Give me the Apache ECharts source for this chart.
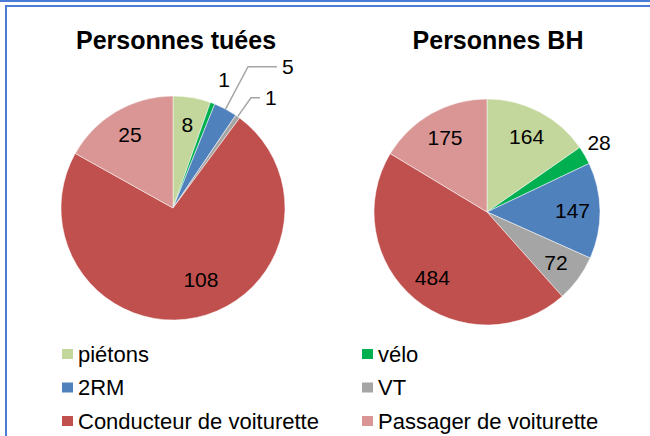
<!DOCTYPE html>
<html>
<head>
<meta charset="utf-8">
<script src="https://cdn.jsdelivr.net/npm/echarts@6/dist/echarts.min.js"></script>
<style>
html,body{margin:0;padding:0;background:#fff;}
#chart{width:650px;height:436px;}
</style>
</head>
<body>
<div id="chart"></div>
<script>
// ---- data ----
const categories = ['piétons', 'vélo', '2RM', 'VT', 'Conducteur de voiturette', 'Passager de voiturette'];
const tuees = [8, 1, 5, 1, 108, 25];
const blesses = [164, 28, 147, 72, 484, 175];
const titles = ['Personnes tuées', 'Personnes BH'];

// ---- styles ----
const colors = ['#C3D69B', '#00B050', '#4F81BD', '#A5A5A5', '#C0504D', '#D99694'];
const FONT = "'Liberation Sans', Arial, sans-serif";
const pies = [
  { values: tuees, center: [173, 208], r: 112,
    outside: { 1: { l1: 25, l2: -8, line: false }, 2: { l1: 48, l2: 29, line: true }, 3: { l1: 23, l2: 9, line: true } },
    nudge: { 4: { dx: 10, dy: -12 } } },
  { values: blesses, center: [487, 212], r: 113,
    outside: { 1: { l1: 25, l2: -24, line: false } },
    nudge: {} }
];

const series = [];
pies.forEach(function (p) {
  // visible pie
  series.push({
    type: 'pie', center: p.center, radius: p.r, startAngle: 90, clockwise: true,
    avoidLabelOverlap: false, silent: true,
    label: { show: false }, labelLine: { show: false },
    itemStyle: { borderColor: '#ffffff', borderWidth: 0.5 },
    emphasis: { disabled: true },
    data: categories.map(function (c, i) {
      return { name: c, value: p.values[i], itemStyle: { color: colors[i] } };
    })
  });
  // label carrier (transparent ring so inside labels sit at ~0.73 r)
  series.push({
    type: 'pie', center: p.center, radius: [Math.round(p.r * 0.46), p.r], startAngle: 90, clockwise: true,
    avoidLabelOverlap: false, silent: true,
    itemStyle: { color: 'rgba(0,0,0,0)' },
    emphasis: { disabled: true },
    label: { show: true, position: 'inside', formatter: '{c}', color: '#000', fontSize: 21, fontFamily: FONT },
    labelLine: { show: false },
    labelLayout: function (params) {
      const n = p.nudge[params.dataIndex];
      return n ? { dx: n.dx, dy: n.dy } : {};
    },
    data: categories.map(function (c, i) {
      const item = { name: c, value: p.values[i] };
      const o = p.outside[i];
      if (o) {
        item.label = { position: 'outside', formatter: '{c}', color: '#000', fontSize: 21, fontFamily: FONT };
        item.labelLine = { show: o.line, length: o.l1, length2: o.l2, smooth: false,
          lineStyle: { color: '#A6A6A6', width: 1.5 } };
      }
      return item;
    })
  });
});

const legendCommon = {
  orient: 'vertical', icon: 'rect', itemWidth: 11, itemHeight: 10, itemGap: 11.5, itemGap2: 0,
  selectedMode: false, padding: 0, height: 95, itemStyle: { borderWidth: 0 },
  textStyle: { color: '#000', fontSize: 22, fontFamily: FONT, lineHeight: 22 }
};

const chart = echarts.init(document.getElementById('chart'), null, { renderer: 'svg' });
chart.setOption({
  animation: false,
  backgroundColor: '#ffffff',
  legend: [
    Object.assign({}, legendCommon, { left: 62, top: 343, data: [categories[0], categories[2], categories[4]] }),
    Object.assign({}, legendCommon, { left: 362, top: 343, data: [categories[1], categories[3], categories[5]] })
  ],
  series: series,
  graphic: [
    { type: 'rect', shape: { x: 0, y: 0, width: 650, height: 2 }, style: { fill: '#4A7CD6' }, silent: true },
    { type: 'rect', shape: { x: 6, y: 6, width: 700, height: 500 }, style: { fill: 'none', stroke: '#4A7CD6', lineWidth: 2 }, silent: true },
    { type: 'text', x: 176, y: 40, style: { text: titles[0], fontSize: 25, fontWeight: 'bold', fontFamily: FONT, fill: '#000', align: 'center', verticalAlign: 'middle' } },
    { type: 'text', x: 498, y: 40, style: { text: titles[1], fontSize: 25, fontWeight: 'bold', fontFamily: FONT, fill: '#000', align: 'center', verticalAlign: 'middle' } }
  ]
});
</script>
</body>
</html>
